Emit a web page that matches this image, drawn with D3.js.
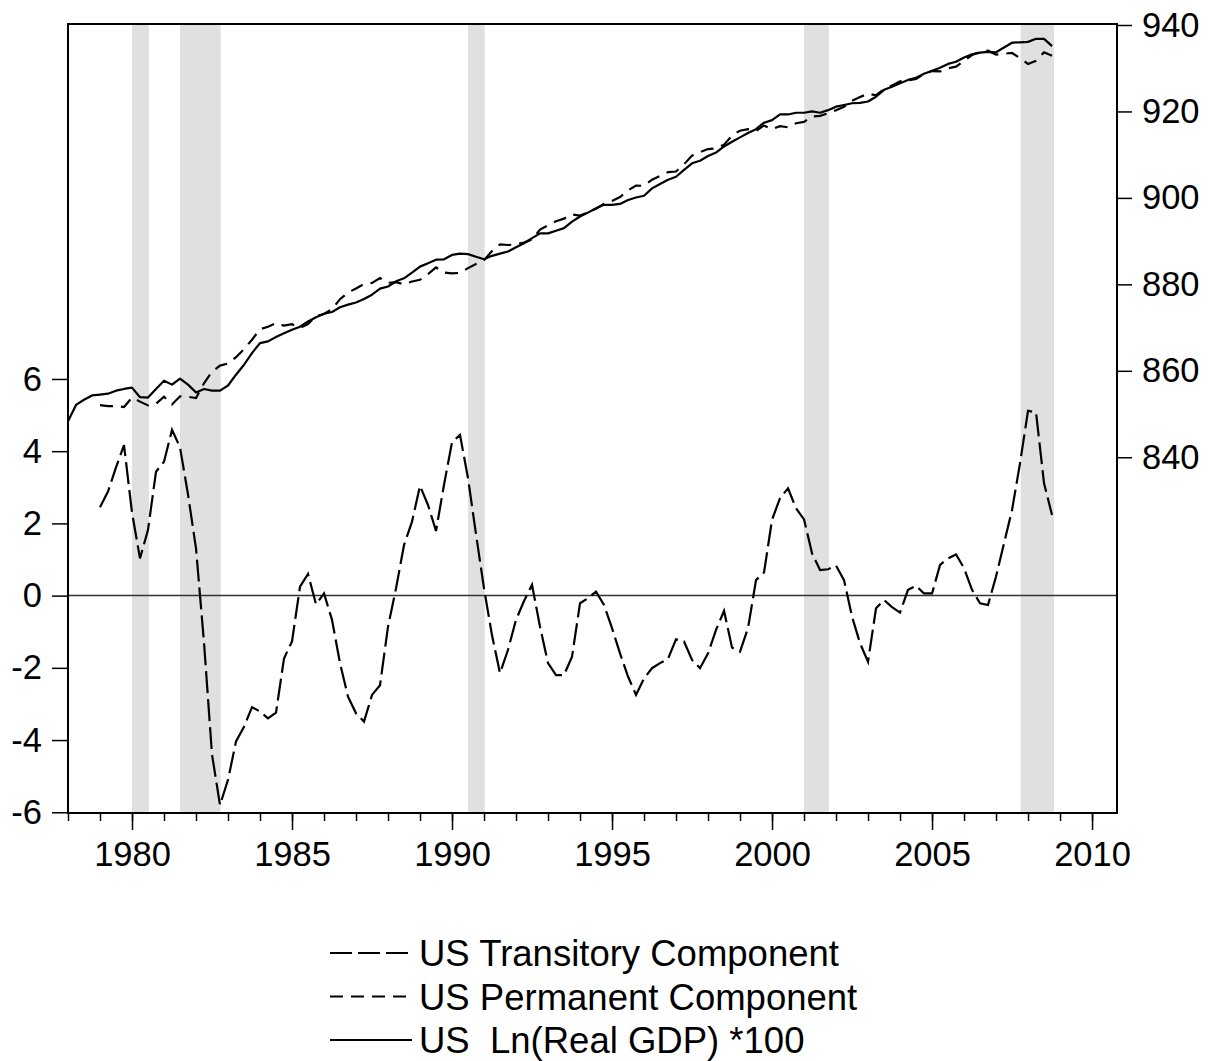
<!DOCTYPE html>
<html>
<head>
    <title>US GDP decomposition</title>
    <script src="https://d3js.org/d3.v7.min.js"></script>
    <style>
        body { margin: 0; background: #fff; }
        text { font-family: "Liberation Sans", Arial, sans-serif; fill: #000; }
    </style>
</head>
<body>
    <div id="chart"></div>

    <script>
// quarterly series, transitory + permanent from 1979Q1, GDP from 1978Q1
const compStart = 1979;
const gdpStart = 1978;

const transitory = [
  2.45, 2.88, 3.55, 4.17, 2.3, 1.03, 1.82, 3.43, 3.71, 4.59, 4.11, 2.8,
  1.31, -1.3, -4.4, -5.8, -5.1, -4.04, -3.63, -3.09, -3.21, -3.40, -3.24, -1.74,
  -1.27, 0.25, 0.60, -0.24, 0.06, -0.67, -1.87, -2.80, -3.26, -3.49, -2.75, -2.48,
  -0.86, 0.20, 1.40, 2.05, 3.04, 2.51, 1.79, 3.07, 4.25, 4.45, 3.25, 1.7,
  0.2, -1.1, -2.15, -1.5, -0.67, -0.15, 0.30, -0.86, -1.87, -2.2, -2.2, -1.69,
  -0.21, -0.07, 0.11, -0.26, -0.90, -1.60, -2.24, -2.75, -2.29, -2.01, -1.87, -1.75,
  -1.21, -1.27, -1.78, -2.01, -1.60, -0.95, -0.42, -1.44, -1.55, -0.90, 0.43, 0.64,
  2.10, 2.70, 2.97, 2.42, 2.11, 1.17, 0.71, 0.73, 0.83, 0.43, -0.58, -1.32,
  -1.83, -0.35, -0.12, -0.32, -0.47, 0.16, 0.27, 0.06, 0.06, 0.85, 1.03, 1.14,
  0.76, 0.16, -0.21, -0.26, 0.53, 1.45, 2.37, 3.67, 5.12, 5.07, 3.11, 2.23
];

const permanent = [
  852.05, 851.82, 851.85, 851.63, 853.8, 852.87, 851.98, 852.37, 853.99, 852.21, 854.09, 854.0,
  853.69, 857.1, 859.8, 861.2, 861.7, 863.14, 865.03, 867.19, 869.61, 870.2, 871.04, 870.44,
  870.77, 869.95, 870.8, 872.64, 873.14, 874.27, 876.57, 878.1, 879.06, 880.09, 880.35, 881.48,
  880.36, 880.5, 880.0, 880.65, 881.06, 882.39, 883.91, 882.73, 882.55, 882.65, 883.75, 884.7,
  885.6, 887.7, 889.25, 889.1, 889.27, 889.65, 890.4, 892.66, 893.67, 894.6, 895.2, 896.19,
  895.91, 896.67, 897.49, 898.66, 899.3, 900.2, 901.74, 902.85, 902.79, 904.21, 905.07, 905.95,
  906.11, 907.77, 909.78, 910.61, 911.3, 911.45, 912.32, 914.44, 915.55, 915.9, 915.47, 916.76,
  915.9, 916.6, 916.33, 917.28, 917.59, 918.83, 918.99, 919.57, 920.27, 921.07, 922.48, 923.32,
  924.13, 923.75, 925.12, 926.02, 926.97, 927.14, 927.53, 928.64, 929.34, 929.25, 929.97, 930.36,
  931.74, 933.04, 933.81, 934.06, 933.17, 933.35, 933.53, 932.33, 930.98, 931.73, 933.69, 932.87
];

const lnGdp = [
  848.3, 852.1, 853.3, 854.3, 854.5, 854.7, 855.4, 855.8, 856.1, 853.9, 853.8, 855.8,
  857.7, 856.8, 858.2, 856.8, 855.0, 855.8, 855.4, 855.4, 856.6, 859.1, 861.4, 864.1,
  866.4, 866.8, 867.8, 868.7, 869.5, 870.2, 871.4, 872.4, 873.2, 873.6, 874.7, 875.3,
  875.8, 876.6, 877.6, 879.0, 879.5, 880.7, 881.4, 882.7, 884.1, 884.9, 885.7, 885.8,
  886.8, 887.1, 887.0, 886.4, 885.8, 886.6, 887.1, 887.6, 888.6, 889.5, 890.7, 891.8,
  891.8, 892.4, 893.0, 894.5, 895.7, 896.6, 897.6, 898.4, 898.4, 898.6, 899.5, 900.1,
  900.5, 902.2, 903.2, 904.2, 904.9, 906.5, 908.0, 908.6, 909.7, 910.5, 911.9, 913.0,
  914.0, 915.0, 915.9, 917.4, 918.0, 919.3, 919.3, 919.7, 919.7, 920.0, 919.7, 920.3,
  921.1, 921.5, 921.9, 922.0, 922.3, 923.4, 925.0, 925.7, 926.5, 927.3, 927.8, 928.7,
  929.4, 930.1, 931.0, 931.5, 932.5, 933.2, 933.6, 933.8, 933.7, 934.8, 935.9, 936.0,
  936.1, 936.8, 936.8, 935.1
];

// NBER recessions (start, end) in years
const recessions = [
  [1980.0, 1980.53], [1981.5, 1982.77], [1990.5, 1991.02], [2001.0, 2001.78], [2007.77, 2008.81]
];

const leftTicks = [-6, -4, -2, 0, 2, 4, 6];
const rightTicks = [840, 860, 880, 900, 920, 940];
const yearTicks = [1980, 1985, 1990, 1995, 2000, 2005, 2010];

const legendItems = [
  { label: "US Transitory Component", dash: "22,6" },
  { label: "US Permanent Component", dash: "13,8" },
  { label: "US  Ln(Real GDP) *100", dash: null }
];

        const width = 1217;
        const height = 1061;
        const pLeft = 68, pRight = 1117, pTop = 24, pBottom = 813;

        const svg = d3.select("#chart")
            .append("svg")
            .attr("width", width)
            .attr("height", height);

        const x = d3.scaleLinear().domain([1978, 2010.78]).range([pLeft, pRight]);
        const yL = d3.scaleLinear().domain([-6.02, 15.83]).range([pBottom, pTop]);
        const yR = d3.scaleLinear().domain([757.7, 940.23]).range([pBottom, pTop]);

        const comp = (arr) => arr.map((v, i) => ({ t: compStart + i / 4, v: v }));
        const gdp = lnGdp.map((v, i) => ({ t: gdpStart + i / 4, v: v }));

        // recession shading
        svg.selectAll("rect.rec")
            .data(recessions)
            .enter()
            .append("rect")
            .attr("class", "rec")
            .attr("x", d => x(d[0]))
            .attr("y", pTop + 1)
            .attr("width", d => x(d[1]) - x(d[0]))
            .attr("height", pBottom - pTop - 1)
            .attr("fill", "#e0e0e0");

        // zero line
        svg.append("line")
            .attr("x1", pLeft).attr("x2", pRight)
            .attr("y1", yL(0)).attr("y2", yL(0))
            .attr("stroke", "#333")
            .attr("stroke-width", 1.5);

        const lineL = d3.line().x(d => x(d.t)).y(d => yL(d.v));
        const lineR = d3.line().x(d => x(d.t)).y(d => yR(d.v));

        svg.append("path")
            .attr("d", lineR(comp(permanent)))
            .attr("fill", "none")
            .attr("stroke", "#000")
            .attr("stroke-width", 2.2)
            .attr("stroke-dasharray", "13,8");

        svg.append("path")
            .attr("d", lineR(gdp))
            .attr("fill", "none")
            .attr("stroke", "#000")
            .attr("stroke-width", 2.2)
            .attr("stroke-linejoin", "round");

        svg.append("path")
            .attr("d", lineL(comp(transitory)))
            .attr("fill", "none")
            .attr("stroke", "#000")
            .attr("stroke-width", 2.2)
            .attr("stroke-dasharray", "22,6");

        // frame
        svg.append("rect")
            .attr("x", pLeft).attr("y", pTop)
            .attr("width", pRight - pLeft).attr("height", pBottom - pTop)
            .attr("fill", "none")
            .attr("stroke", "#000")
            .attr("stroke-width", 2);

        // axes (plain hyphen for negatives, like the original)
        const plain = d => String(d);
        const styleAxis = g => {
            g.select(".domain").remove();
            g.selectAll("line").attr("stroke", "#000").attr("stroke-width", 1.5);
            g.selectAll("text").style("font-size", "34.5px").attr("fill", "#000");
        };

        svg.append("g")
            .attr("transform", `translate(0,${pBottom})`)
            .call(d3.axisBottom(x).tickValues(d3.range(1978, 2011)).tickSize(8).tickFormat(""))
            .call(styleAxis);

        svg.append("g")
            .attr("transform", `translate(0,${pBottom})`)
            .call(d3.axisBottom(x).tickValues(yearTicks).tickSize(17).tickPadding(12).tickFormat(plain))
            .call(styleAxis);

        svg.append("g")
            .attr("transform", `translate(${pLeft},0)`)
            .call(d3.axisLeft(yL).tickValues(leftTicks).tickSize(16).tickPadding(10).tickFormat(plain))
            .call(styleAxis);

        svg.append("g")
            .attr("transform", `translate(${pRight},0)`)
            .call(d3.axisRight(yR).tickValues(rightTicks).tickSize(15).tickPadding(10).tickFormat(plain))
            .call(styleAxis);

        // legend
        const legend = svg.append("g").attr("transform", "translate(330,953)");
        const rows = legend.selectAll("g")
            .data(legendItems)
            .enter()
            .append("g")
            .attr("transform", (d, i) => `translate(0,${i * 43.5})`);

        rows.append("line")
            .attr("x1", 0).attr("x2", 82)
            .attr("y1", 0).attr("y2", 0)
            .attr("stroke", "#000")
            .attr("stroke-width", 2.2)
            .attr("stroke-dasharray", d => d.dash);

        rows.append("text")
            .attr("x", 89)
            .attr("y", 13)
            .attr("xml:space", "preserve")
            .style("white-space", "pre")
            .style("font-size", "36.5px")
            .text(d => d.label);
    </script>
</body>
</html>
